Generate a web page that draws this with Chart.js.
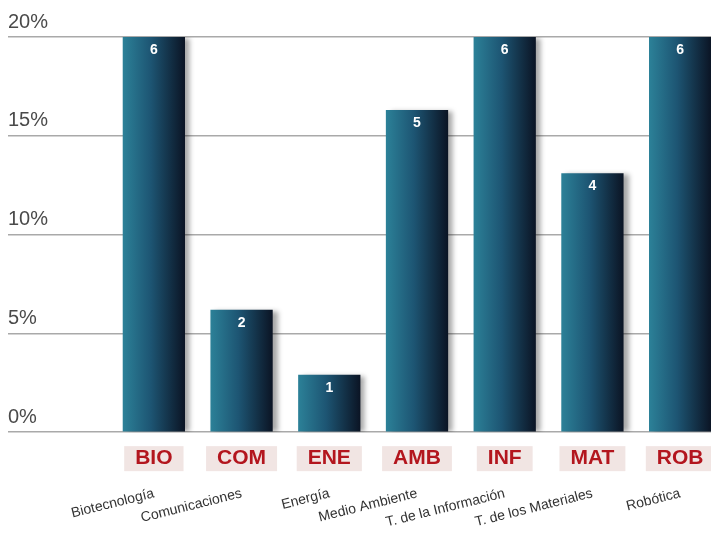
<!DOCTYPE html>
<html>
<head>
<meta charset="utf-8">
<script src="https://cdn.jsdelivr.net/npm/chart.js@4"></script>
<style>
  html, body { margin: 0; padding: 0; background: #fff; overflow: hidden; }
  #wrap { width: 724px; height: 533px; }
</style>
</head>
<body>
<div id="wrap"><canvas id="myChart"></canvas></div>
<script>
// data
const codes = ['BIO', 'COM', 'ENE', 'AMB', 'INF', 'MAT', 'ROB'];
const names = ['Biotecnología', 'Comunicaciones', 'Energía', 'Medio Ambiente',
               'T. de la Información', 'T. de los Materiales', 'Robótica'];
const percents = [20, 6.2, 2.9, 16.3, 20, 13.1, 20];
const counts = [6, 2, 1, 5, 6, 4, 6];
const yTicks = [0, 5, 10, 15, 20];

const barPct = 0.71;

function barGradient(c) {
  const chart = c.chart;
  if (!chart.chartArea) return '#1c4a66';
  const xs = chart.scales.x;
  const cx = xs.getPixelForValue(c.dataIndex);
  const w = xs.width / codes.length * barPct;
  const g = chart.ctx.createLinearGradient(cx - w / 2, 0, cx + w / 2, 0);
  g.addColorStop(0, '#2c8198');
  g.addColorStop(0.45, '#1d5573');
  g.addColorStop(1, '#0b1424');
  return g;
}

// drop shadow + count labels on top of bars
const barExtras = {
  id: 'barExtras',
  beforeDatasetsDraw(chart) {
    const ctx = chart.ctx;
    ctx.save();
    ctx.shadowColor = 'rgba(0,0,0,0.35)';
    ctx.shadowOffsetX = 5;
    ctx.shadowOffsetY = 1;
    ctx.shadowBlur = 5;
  },
  afterDatasetsDraw(chart) {
    const ctx = chart.ctx;
    ctx.restore();
    ctx.save();
    ctx.fillStyle = '#ffffff';
    ctx.font = 'bold 14px "Liberation Sans", Arial, sans-serif';
    ctx.textAlign = 'center';
    ctx.textBaseline = 'middle';
    chart.getDatasetMeta(0).data.forEach((bar, i) => {
      ctx.fillText(String(counts[i]), bar.x, bar.y + 13);
    });
    ctx.restore();
  }
};

const ctx = document.getElementById('myChart').getContext('2d');
const myChart = new Chart(ctx, {
  type: 'bar',
  data: {
    labels: codes,
    datasets: [{
      data: percents,
      backgroundColor: barGradient,
      borderWidth: 0,
      barPercentage: barPct,
      categoryPercentage: 1
    }]
  },
  plugins: [barExtras],
  options: {
    responsive: true,
    maintainAspectRatio: false,
    animation: false,
    layout: { padding: { left: 8, top: 37, right: 0, bottom: 2 } },
    plugins: {
      legend: { display: false },
      tooltip: { enabled: false }
    },
    scales: {
      y: {
        min: 0,
        max: 20,
        afterBuildTicks(scale) {
          scale.ticks = yTicks.map(v => ({ value: v }));
        },
        afterFit(scale) { scale.width = 102; },
        border: { display: false },
        grid: { color: '#a9a9a9', lineWidth: 1.5, tickLength: 102 },
        ticks: {
          crossAlign: 'far',
          labelOffset: -15,
          color: '#4a4a4a',
          font: { family: '"Liberation Sans", Arial, sans-serif', size: 20 },
          callback: v => v + '%'
        }
      },
      x: {
        weight: 0,
        border: { display: false },
        grid: { display: false, drawTicks: false },
        ticks: {
          padding: 16,
          color: '#b3161e',
          font: { family: '"Liberation Sans", Arial, sans-serif', size: 21, weight: 'bold', lineHeight: 1 },
          showLabelBackdrop: true,
          backdropColor: '#f1e5e3',
          backdropPadding: { left: 11, right: 11, top: 2, bottom: 2 },
          maxRotation: 0
        }
      },
      x2: {
        type: 'category',
        labels: names,
        position: 'bottom',
        weight: 1,
        offset: true,
        border: { display: false },
        grid: { display: false, drawTicks: false },
        ticks: {
          padding: 0,
          color: '#333333',
          font: { family: '"Liberation Sans", Arial, sans-serif', size: 14 },
          minRotation: 14,
          maxRotation: 14,
          autoSkip: false
        }
      }
    }
  }
});
</script>
</body>
</html>
